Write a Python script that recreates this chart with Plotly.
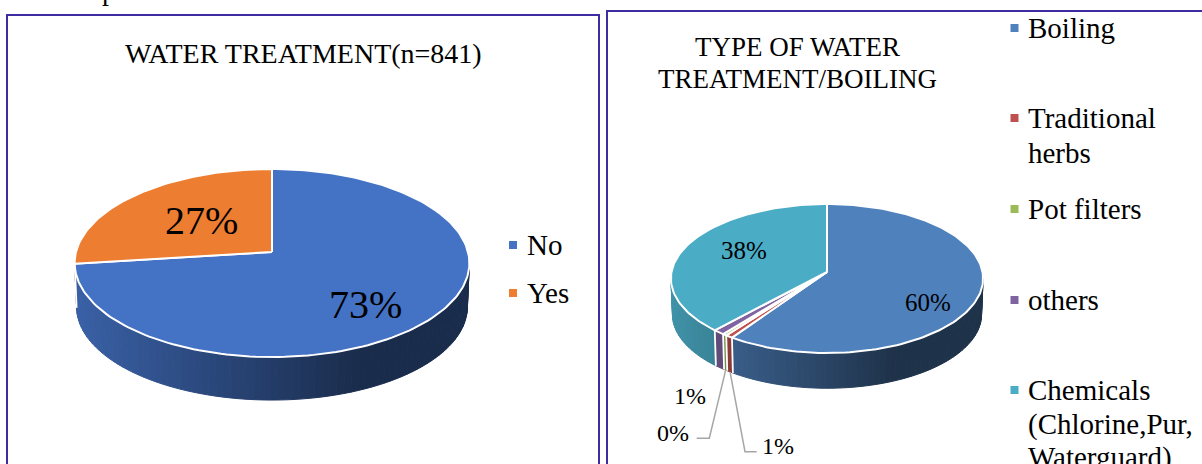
import numpy as np
import plotly.graph_objects as go

# ---- data ----
TITLE_A = "WATER TREATMENT(n=841)"
LABELS_A = ["No", "Yes"]
VALUES_A = [73, 27]
COLORS_A = ["#4472C4", "#ED7D31"]

TITLE_B = ["TYPE OF WATER", "TREATMENT/BOILING"]
LABELS_B = ["Boiling", "Traditional herbs", "Pot filters", "others", "Chemicals (Chlorine,Pur, Waterguard)"]
VALUES_B = [59.6, 0.7, 0.4, 1.1, 38.2]
COLORS_B = ["#4F81BD", "#C0504D", "#9BBB59", "#8064A2", "#4BACC6"]

FONT = "Liberation Serif"
FRAME = "#3F2CA3"
fig = go.Figure()


def pie3d(values, colors, names, cx, rx, apex, top, bottom, depth):
    # perspective mapping of the unit disc: Y=1 -> top, Y=0 -> apex, Y=-1 -> bottom
    c = (bottom - apex - (apex - top)) / (bottom - top)
    a = top * c + top - apex
    cy0 = (top + bottom) / 2

    def proj(theta, r=1.0):
        X, Y = r * np.sin(theta), r * np.cos(theta)
        w = 1 + c * Y
        return cx + rx * X / w, (apex + a * Y) / w

    def proj_low(theta):
        x, y = proj(theta)
        return cx + (x - cx) * 0.99, cy0 + (y - cy0) * 0.99 + depth

    v = np.array(values, float)
    edges = np.concatenate([[0], np.cumsum(v)]) / v.sum() * 2 * np.pi
    th_r = np.arccos(-c)
    th_l = 2 * np.pi - th_r

    def shade(x, col):
        u = (x - (cx - rx)) / (2 * rx)
        f = max(0.39, 0.85 - 0.46 * u / 0.72)
        rgb = [int(col[i:i + 2], 16) for i in (1, 3, 5)]
        return "rgb(%d,%d,%d)" % tuple(int(k * f) for k in rgb)

    # side wall: narrow bands whose colour follows the horizontal position
    for i, col in enumerate(colors):
        s, e = max(edges[i], th_r), min(edges[i + 1], th_l)
        if e <= s:
            continue
        n = max(1, int((e - s) / np.radians(2)))
        ts = np.linspace(s, e, n + 1)
        for t0, t1 in zip(ts[:-1], ts[1:]):
            tt = np.linspace(t0, t1, 3)
            xt, yt = proj(tt)
            xb, yb = proj_low(tt)
            xs = np.concatenate([xt, xb[::-1], xt[:1]])
            ys = np.concatenate([yt, yb[::-1], yt[:1]])
            sc = shade(xt.mean(), col)
            fig.add_trace(go.Scatter(x=xs, y=ys, mode="lines", fill="toself", fillcolor=sc,
                                     line=dict(color=sc, width=1), hoverinfo="skip", showlegend=False))
    # white seams on the wall
    for t in edges[1:-1]:
        if th_r < t < th_l:
            x0, y0 = proj(t)
            x1, y1 = proj_low(t)
            fig.add_trace(go.Scatter(x=[x0, x1], y=[y0, y1], mode="lines",
                                     line=dict(color="white", width=1.8), hoverinfo="skip", showlegend=False))
    # top face
    for i, col in enumerate(colors):
        tt = np.linspace(edges[i], edges[i + 1], max(3, int((edges[i + 1] - edges[i]) / np.radians(1.5))))
        x, y = proj(tt)
        xs = np.concatenate([[cx], x, [cx]])
        ys = np.concatenate([[apex], y, [apex]])
        fig.add_trace(go.Scatter(x=xs, y=ys, mode="lines", fill="toself", fillcolor=col, name=names[i],
                                 line=dict(color="white", width=2), hoverinfo="skip", showlegend=False))
    return proj, proj_low, edges


def text(x, y, s, size, anchor="center", yshift=0):
    fig.add_annotation(x=x, y=y, text=s, showarrow=False, xanchor=anchor, yanchor="middle",
                       font=dict(family=FONT, size=size, color="#000000"), xref="x", yref="y",
                       yshift=yshift, borderpad=0, borderwidth=0)


def pct(values):
    tot = sum(values)
    return ["%d%%" % round(v / tot * 100) for v in values]


def marker(x, y, col):
    fig.add_trace(go.Scatter(x=[x], y=[y], mode="markers", hoverinfo="skip", showlegend=False,
                             marker=dict(symbol="square", size=8, color=col, line=dict(width=0))))


# ---- left pie ----
pie3d(VALUES_A, COLORS_A, LABELS_A, cx=272, rx=196, apex=252, top=169, bottom=357, depth=44)
pa = pct(VALUES_A)
text(365.5, 304, pa[0], 40)
text(201.7, 220, pa[1], 40)
text(303, 53, TITLE_A, 28)
for name, col, y in zip(LABELS_A, COLORS_A, [245, 293]):
    marker(513, y, col)
    text(527, y, name, 29, "left")

# ---- right pie ----
proj, proj_low, edges = pie3d(VALUES_B, COLORS_B, LABELS_B, cx=827, rx=155.5, apex=272, top=204, bottom=353, depth=36)
pb = pct(VALUES_B)
text(928, 302, pb[0], 25)
text(744, 250, pb[4], 25)
text(690, 396, pb[3], 24)
text(673, 433, pb[2], 24)
text(778, 446, pb[1], 24)
text(797, 47, TITLE_B[0], 27)
text(797, 79, TITLE_B[1], 27)

# leader lines start at the lower edge of the thin slices
mid_pot = (edges[2] + edges[3]) / 2
mid_trad = (edges[1] + edges[2]) / 2
for mid, px, py in [(mid_pot, [709.3, 696.7], [438.3, 438.3]), (mid_trad, [745, 756.7], [451.7, 451.7])]:
    x0, y0 = proj_low(mid)
    fig.add_trace(go.Scatter(x=[float(x0)] + px, y=[float(y0)] + py, mode="lines", hoverinfo="skip",
                             showlegend=False, line=dict(color="#A6A6A6", width=1.5)))

legend_lines = [["Boiling"], ["Traditional", "herbs"], ["Pot filters"], ["others"],
                ["Chemicals", "(Chlorine,Pur,", "Waterguard)"]]
legend_y = [[28], [118, 153], [209], [300], [390, 424, 457]]
for lines, ys, col in zip(legend_lines, legend_y, COLORS_B):
    marker(1014.5, ys[0], col)
    for ln, y in zip(lines, ys):
        text(1028, y, ln, 29, "left")

# clipped fragment of the line above the panels
text(109, 0, "p", 28, yshift=10)

# panel frames
fig.add_shape(type="rect", x0=7, x1=599, y0=15, y1=480, line=dict(color=FRAME, width=2), layer="below")
fig.add_shape(type="rect", x0=607, x1=1230, y0=11, y1=480, line=dict(color=FRAME, width=2), layer="below")

fig.update_layout(width=1202, height=464, margin=dict(l=0, r=0, t=0, b=0), showlegend=False,
                  paper_bgcolor="white", plot_bgcolor="white",
                  xaxis=dict(range=[0, 1202], visible=False, fixedrange=True),
                  yaxis=dict(range=[464, 0], visible=False, fixedrange=True))
fig.write_html("out.html", config=dict(displayModeBar=False),
               post_script="document.body.style.margin='0';document.documentElement.style.overflow='hidden';")
